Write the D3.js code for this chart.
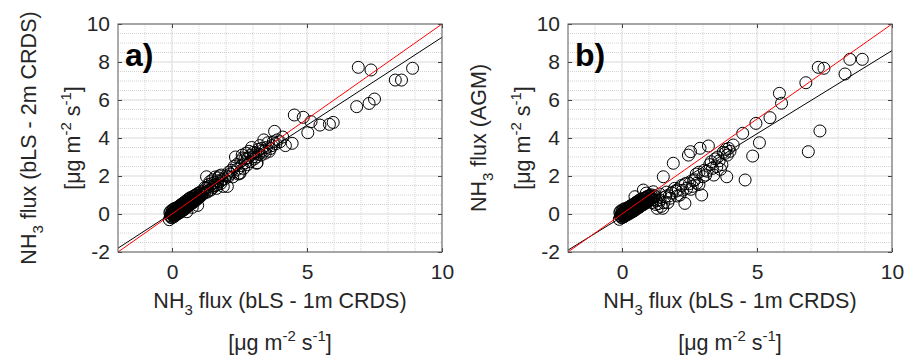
<!DOCTYPE html>
<html>
<head>
<meta charset="utf-8">
<script src="https://cdn.jsdelivr.net/npm/d3@7"></script>
<style>
  html, body { margin: 0; padding: 0; background: #fff; }
  svg { display: block; font-family: "Liberation Sans", Arial, sans-serif; }
</style>
</head>
<body>
<svg id="chart" width="905" height="360"></svg>
<script>
// axis ticks (both panels share the same limits)
const xDomain = [-2, 10];
const yDomain = [-2, 10];
const xTicks = [0, 5, 10];
const yTicks = [-2, 0, 2, 4, 6, 8, 10];
const xMinorGrid = [-1, 0, 1, 2, 3, 4, 5, 6, 7, 8, 9];
const yMinorGrid = [-1.5, -1, -0.5, 0, 0.5, 1, 1.5, 2, 2.5, 3, 3.5, 4, 4.5, 5, 5.5, 6, 6.5, 7, 7.5, 8, 8.5, 9, 9.5];

// panel a: bLS 1m CRDS (x) vs bLS 2m CRDS (y)
const aX = [
  0.00, 0.02, 0.05, 0.08, 0.10, 0.12, 0.15, 0.18, 0.20, 0.22, 0.25, 0.28, 0.30, 0.33, 0.35, 0.38, 0.40, 0.43, 0.45, 0.48,
  0.50, 0.53, 0.55, 0.58, 0.60, 0.63, 0.65, 0.68, 0.70, 0.74, 0.78, 0.82, 0.85, 0.90, 0.95, 1.00, 1.05, 1.10, 1.15, 1.20,
  -0.05, 0.03, 0.07, 0.12, 0.17, 0.22, 0.27, 0.32, 0.37, 0.42, 0.47, 0.52, 0.57, 0.62, 0.67, 0.72, 0.80, 0.88, 0.55, 0.95, 0.75,
  1.25, 1.30, 1.35, 1.40, 1.45, 1.50, 1.55, 1.60, 1.65, 1.70, 1.75, 1.80, 1.85, 1.90, 2.00, 2.05, 2.10, 2.20, 2.25, 2.30,
  2.35, 2.40, 2.45, 2.50, 2.55, 2.60, 2.65, 2.70, 2.75, 2.80, 2.85, 2.90, 2.95, 3.00, 3.05, 3.10, 3.15, 3.20, 3.25, 3.30,
  3.35, 3.40, 3.45, 3.50, 3.60, 3.70, 3.80, 3.85, 3.90, 4.00, 4.10, 4.20, 4.45, 2.52, 3.14, 1.28,
  1.22, 1.32, 1.38, 1.42, 1.48, 1.52, 1.58, 1.62, 1.68, 1.72, 1.78, 1.82, 1.95, 2.08, 2.15,
  2.28, 2.42, 2.58, 2.62, 2.72, 2.82, 2.92, 3.02, 3.12, 3.22, 3.32, 3.42, 3.55, 3.65, 3.75,
  4.53, 4.86, 5.03, 5.15, 5.48, 5.83, 5.97, 6.90, 7.37, 8.91, 8.27, 8.50, 6.84, 7.30, 7.50
];
const aY = [
  -0.05, 0.05, 0.00, 0.10, 0.05, 0.15, 0.10, 0.20, 0.15, 0.25, 0.20, 0.30, 0.25, 0.35, 0.30, 0.40, 0.35, 0.45, 0.40, 0.50,
  0.45, 0.55, 0.50, 0.60, 0.55, 0.65, 0.60, 0.70, 0.62, 0.72, 0.70, 0.80, 0.78, 0.85, 0.90, 0.95, 1.02, 1.00, 1.12, 1.10,
  -0.10, -0.05, 0.00, 0.05, 0.12, 0.18, 0.22, 0.30, 0.33, 0.40, 0.42, 0.48, 0.52, 0.60, 0.62, 0.68, 0.75, 0.82, 0.12, 0.45, 0.35,
  1.35, 1.15, 1.55, 1.70, 1.30, 1.80, 1.50, 1.95, 1.35, 1.75, 2.00, 1.60, 1.80, 1.45, 2.00, 1.45, 2.20, 2.30, 1.95, 2.50,
  3.00, 2.60, 2.10, 2.15, 2.80, 3.10, 2.40, 2.90, 3.20, 2.60, 3.30, 2.75, 3.50, 3.00, 2.90, 3.20, 2.70, 3.40, 3.60, 3.10,
  3.35, 3.90, 3.20, 3.50, 3.30, 3.60, 4.35, 3.70, 3.90, 3.80, 4.05, 3.60, 3.72, 2.14, 2.67, 1.96,
  1.40, 1.20, 1.45, 1.25, 1.60, 1.40, 1.65, 1.50, 1.55, 1.90, 1.70, 2.05, 1.85, 1.95, 2.10,
  2.20, 2.35, 2.55, 2.95, 2.70, 2.95, 3.10, 3.25, 3.00, 3.15, 3.45, 3.30, 3.75, 3.45, 3.80,
  5.21, 5.09, 4.28, 4.86, 4.68, 4.72, 4.82, 7.72, 7.58, 7.67, 7.05, 7.05, 5.65, 5.82, 6.05
];
// dense cluster near zero (panel a)
const aClusterX = [
  -0.10, -0.08, -0.06, -0.05, -0.03, -0.02, 0.00, 0.01, 0.03, 0.04, 0.06, 0.07, 0.09, 0.10, 0.12, 0.13, 0.15, 0.16, 0.18, 0.19,
  0.21, 0.22, 0.24, 0.25, 0.27, 0.28, 0.30, 0.31, 0.33, 0.34, 0.36, 0.37, 0.39, 0.40, 0.42, 0.43, 0.45, 0.46, 0.48, 0.49,
  0.51, 0.52, 0.54, 0.55, 0.57, 0.58, 0.60, 0.61, 0.63, 0.64, 0.66, 0.67, 0.69, 0.70, 0.72, 0.74, 0.76, 0.78, 0.80, 0.82,
  0.84, 0.86, 0.88, 0.90, 0.93, 0.96, 0.99, 1.02, 1.05, 1.08,
  0.05, 0.10, 0.15, 0.20, 0.25, 0.30, 0.35, 0.40, 0.45, 0.50, 0.55, 0.60, 0.65, 0.70, 0.75, 0.80, 0.85, 0.90, 0.95, 1.00
];
const aClusterY = [
  -0.30, 0.07, -0.11, 0.15, -0.18, 0.03, -0.20, 0.16, -0.02, 0.24, -0.14, 0.12, -0.12, 0.30, -0.05, 0.22, -0.04, 0.30, 0.02, 0.20,
  0.00, 0.36, 0.08, 0.40, 0.10, 0.32, 0.08, 0.45, 0.15, 0.50, 0.16, 0.42, 0.22, 0.55, 0.20, 0.58, 0.25, 0.50, 0.30, 0.65,
  0.30, 0.68, 0.38, 0.60, 0.40, 0.75, 0.42, 0.78, 0.45, 0.70, 0.50, 0.85, 0.52, 0.86, 0.55, 0.82, 0.60, 0.92, 0.62, 0.95,
  0.70, 0.98, 0.72, 1.02, 0.78, 1.08, 0.85, 1.12, 0.92, 1.18,
  0.05, 0.08, 0.16, 0.18, 0.25, 0.27, 0.34, 0.37, 0.43, 0.46, 0.53, 0.56, 0.62, 0.65, 0.72, 0.75, 0.82, 0.84, 0.91, 0.94
];
const aFit = [0.925, 0.05]; // slope, intercept

// panel b: bLS 1m CRDS (x) vs AGM (y)
const bX = [
  0.00, 0.02, 0.05, 0.08, 0.10, 0.12, 0.15, 0.18, 0.20, 0.22, 0.25, 0.28, 0.30, 0.33, 0.35, 0.38, 0.40, 0.43, 0.45, 0.48,
  0.50, 0.53, 0.55, 0.58, 0.60, 0.63, 0.65, 0.68, 0.70, 0.74, 0.78, 0.82, 0.85, 0.90, 0.95, 1.00, 1.05, 1.10, 1.15, 1.20,
  -0.05, 0.03, 0.07, 0.12, 0.17, 0.22, 0.27, 0.32, 0.37, 0.42, 0.47, 0.52, 0.57, 0.62, 0.67, 0.72, 0.80, 0.88,
  0.48, 0.79, 0.90, 1.00, 1.10, 1.16, 1.25, 1.30, 1.41, 1.45, 1.51, 1.53, 1.60, 1.70, 1.78, 1.85, 1.90, 2.00, 2.09, 2.15,
  2.20, 2.33, 2.40, 2.46, 2.54, 2.50, 2.60, 2.70, 2.77, 2.85, 2.89, 2.95, 3.00, 3.05, 3.10, 3.20, 3.25, 3.35, 3.45, 3.51,
  3.60, 3.70, 3.81, 3.85, 3.88, 3.90, 4.00, 4.12, 4.56,
  0.95, 1.05, 1.15, 1.20, 1.28, 1.35, 1.40, 1.55, 1.65, 1.75, 1.95, 2.05, 2.25,
  2.35, 2.55, 2.65, 2.75, 2.85, 3.15, 3.30, 3.40, 3.55, 3.65, 3.75, 3.95,
  4.47, 4.84, 4.96, 5.09, 5.48, 5.83, 5.91, 6.81, 6.90, 7.27, 7.33, 7.48, 8.26, 8.44, 8.90
];
const bY = [
  -0.05, 0.02, 0.00, 0.06, 0.02, 0.10, 0.05, 0.14, 0.08, 0.18, 0.12, 0.22, 0.16, 0.26, 0.20, 0.30, 0.24, 0.34, 0.28, 0.38,
  0.30, 0.42, 0.36, 0.46, 0.40, 0.50, 0.44, 0.54, 0.48, 0.56, 0.58, 0.62, 0.66, 0.70, 0.72, 0.78, 0.80, 0.86, 0.90, 0.95,
  -0.10, -0.08, -0.05, 0.00, 0.05, 0.08, 0.12, 0.16, 0.20, 0.24, 0.30, 0.32, 0.38, 0.42, 0.45, 0.50, 0.60, 0.65,
  0.91, 1.26, 1.10, 0.95, 0.60, 1.17, 0.50, 0.30, 0.74, 0.40, 0.30, 1.96, 0.90, 0.60, 0.83, 1.10, 2.67, 1.20, 1.26, 1.00,
  1.50, 0.56, 1.35, 3.10, 3.28, 1.60, 1.45, 1.80, 1.62, 2.20, 3.46, 1.00, 1.96, 2.30, 2.05, 3.58, 2.60, 2.40, 2.90, 2.49,
  2.80, 2.60, 3.19, 3.40, 1.96, 3.10, 3.30, 3.63, 1.79,
  0.70, 0.85, 0.75, 0.95, 0.70, 0.55, 1.05, 0.60, 1.15, 0.95, 1.35, 0.95, 1.25,
  1.60, 1.30, 1.75, 2.10, 1.55, 2.25, 2.75, 2.05, 3.00, 2.35, 3.25, 3.45,
  4.25, 3.05, 4.77, 3.75, 5.07, 6.35, 5.83, 6.91, 3.28, 7.72, 4.37, 7.67, 7.37, 8.14, 8.14
];
// dense cluster near zero (panel b)
const bClusterX = aClusterX.slice();
const bClusterY = [
  -0.28, 0.08, -0.10, 0.16, -0.17, 0.03, -0.20, 0.16, -0.03, 0.23, -0.15, 0.11, -0.13, 0.28, -0.07, 0.20, -0.06, 0.28, -0.01, 0.17,
  -0.03, 0.33, 0.04, 0.36, 0.06, 0.27, 0.04, 0.41, 0.10, 0.45, 0.11, 0.37, 0.16, 0.49, 0.14, 0.51, 0.18, 0.43, 0.22, 0.57,
  0.23, 0.61, 0.30, 0.52, 0.32, 0.66, 0.33, 0.69, 0.35, 0.60, 0.40, 0.75, 0.41, 0.76, 0.45, 0.71, 0.49, 0.80, 0.50, 0.83,
  0.57, 0.85, 0.58, 0.89, 0.64, 0.94, 0.70, 0.97, 0.76, 1.01,
  0.03, 0.09, 0.11, 0.17, 0.19, 0.25, 0.27, 0.33, 0.35, 0.41, 0.43, 0.49, 0.51, 0.57, 0.59, 0.65, 0.67, 0.73, 0.75, 0.81
];
const bFit = [0.875, -0.15];

const svg = d3.select("#chart");
const textColor = "#262626";
const labelSize = "21.5px";
const scriptSize = "15px";

function labelNH3(t, tail) {
  t.append("tspan").text("NH");
  t.append("tspan").attr("dy", 7).style("font-size", scriptSize).text("3");
  t.append("tspan").attr("dy", -7).text(tail);
}

function labelUnits(t) {
  t.append("tspan").text("[\u03bcg m");
  t.append("tspan").attr("dy", -9).style("font-size", scriptSize).text("-2");
  t.append("tspan").attr("dy", 9).text(" s");
  t.append("tspan").attr("dy", -9).style("font-size", scriptSize).text("-1");
  t.append("tspan").attr("dy", 9).text("]");
}

function drawPanel(ox, xs, ys, fit, tag, yTail) {
  const left = ox + 118, right = ox + 442, top = 24, bottom = 252;
  const x = d3.scaleLinear().domain(xDomain).range([left, right]);
  const y = d3.scaleLinear().domain(yDomain).range([bottom, top]);
  const g = svg.append("g");

  // grid
  g.selectAll(".xminor").data(xMinorGrid).enter().append("line")
    .attr("x1", d => x(d)).attr("x2", d => x(d)).attr("y1", top).attr("y2", bottom)
    .attr("stroke", "#d4d4d4").attr("stroke-width", 1).attr("stroke-dasharray", "1,1");
  g.selectAll(".yminor").data(yMinorGrid).enter().append("line")
    .attr("x1", left).attr("x2", right).attr("y1", d => y(d)).attr("y2", d => y(d))
    .attr("stroke", "#d4d4d4").attr("stroke-width", 1).attr("stroke-dasharray", "1,1");
  g.selectAll(".ymajor").data(yTicks).enter().append("line")
    .attr("x1", left).attr("x2", right).attr("y1", d => y(d)).attr("y2", d => y(d))
    .attr("stroke", "#e3e3e3").attr("stroke-width", 1);
  g.selectAll(".xmajor").data(xTicks).enter().append("line")
    .attr("x1", d => x(d)).attr("x2", d => x(d)).attr("y1", top).attr("y2", bottom)
    .attr("stroke", "#e3e3e3").attr("stroke-width", 1);

  // points
  const pts = xs.map((v, i) => [v, ys[i]]);
  g.selectAll(".pt").data(pts).enter().append("circle")
    .attr("cx", d => x(d[0])).attr("cy", d => y(d[1])).attr("r", 6)
    .attr("fill", "none").attr("stroke", "#000").attr("stroke-width", 1);

  // fit line and 1:1 line
  const lineGen = d3.line().x(d => x(d[0])).y(d => y(d[1]));
  g.append("path")
    .datum(xDomain.map(v => [v, fit[0] * v + fit[1]]))
    .attr("d", lineGen).attr("fill", "none").attr("stroke", "#000").attr("stroke-width", 1);
  g.append("path")
    .datum(xDomain.map(v => [v, v]))
    .attr("d", lineGen).attr("fill", "none").attr("stroke", "#ff0000").attr("stroke-width", 1);

  // box and axes
  const fmt = d => String(d);
  g.append("g").attr("transform", `translate(0,${bottom})`)
    .call(d3.axisBottom(x).tickValues(xTicks).tickSizeInner(-4).tickSizeOuter(0).tickPadding(12).tickFormat(fmt))
    .call(a => a.select(".domain").remove());
  g.append("g").attr("transform", `translate(0,${top})`)
    .call(d3.axisTop(x).tickValues(xTicks).tickSizeInner(-4).tickSizeOuter(0).tickFormat(""))
    .call(a => a.select(".domain").remove());
  g.append("g").attr("transform", `translate(${left},0)`)
    .call(d3.axisLeft(y).tickValues(yTicks).tickSizeInner(-4).tickSizeOuter(0).tickPadding(8).tickFormat(fmt))
    .call(a => a.select(".domain").remove());
  g.append("g").attr("transform", `translate(${right},0)`)
    .call(d3.axisRight(y).tickValues(yTicks).tickSizeInner(-4).tickSizeOuter(0).tickFormat(""))
    .call(a => a.select(".domain").remove());
  g.selectAll(".tick line").attr("stroke", "#404040");
  g.selectAll(".tick text").attr("fill", textColor).style("font-size", "21px")
    .style("font-family", "'Liberation Sans', Arial, sans-serif");
  g.append("rect").attr("x", left).attr("y", top).attr("width", right - left).attr("height", bottom - top)
    .attr("fill", "none").attr("stroke", "#5a5a5a").attr("stroke-width", 1);

  // panel tag
  g.append("text").attr("x", left + 7).attr("y", 66)
    .style("font-size", "32px").style("font-weight", "bold").attr("fill", "#000").text(tag);

  // x label
  const xl = g.append("text").attr("x", (left + right) / 2).attr("y", 308)
    .attr("text-anchor", "middle").style("font-size", labelSize).attr("fill", textColor);
  labelNH3(xl, " flux (bLS - 1m CRDS)");
  const xu = g.append("text").attr("x", (left + right) / 2).attr("y", 350)
    .attr("text-anchor", "middle").style("font-size", labelSize).attr("fill", textColor);
  labelUnits(xu);

  // y label
  const cy = (top + bottom) / 2;
  const yl = g.append("text").attr("transform", `translate(${ox + 36},${cy}) rotate(-90)`)
    .attr("text-anchor", "middle").style("font-size", labelSize).attr("fill", textColor);
  labelNH3(yl, yTail);
  const yu = g.append("text").attr("transform", `translate(${ox + 80},${cy}) rotate(-90)`)
    .attr("text-anchor", "middle").style("font-size", labelSize).attr("fill", textColor);
  labelUnits(yu);
}

drawPanel(0, aClusterX.concat(aX), aClusterY.concat(aY), aFit, "a)", " flux (bLS - 2m CRDS)");
drawPanel(450, bClusterX.concat(bX), bClusterY.concat(bY), bFit, "b)", " flux (AGM)");
</script>
</body>
</html>
